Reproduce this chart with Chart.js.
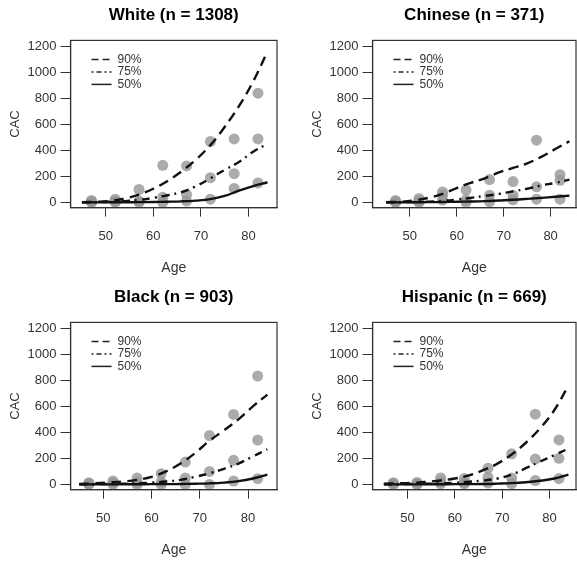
<!DOCTYPE html>
<html>
<head>
<meta charset="utf-8">
<script src="https://cdn.jsdelivr.net/npm/chart.js@4"></script>
<style>
  html, body { margin: 0; padding: 0; background: #fff; overflow: hidden; }
  body { width: 577px; height: 564px; position: relative; }
  .panel { position: absolute; }
</style>
</head>
<body>
<div class="panel" style="left:0px;top:0px"><canvas id="white" width="303" height="282"></canvas></div>
<div class="panel" style="left:302px;top:0px"><canvas id="chinese" width="303" height="282"></canvas></div>
<div class="panel" style="left:0px;top:282px"><canvas id="black" width="303" height="282"></canvas></div>
<div class="panel" style="left:302px;top:282px"><canvas id="hispanic" width="303" height="282"></canvas></div>
<script>
// ages where the fitted percentile curves are read
const curveAges = [45, 48, 51, 54, 57, 60, 63, 66, 69, 72, 75, 78, 81, 84];
// age bins of the observed percentiles (grey dots)
const binAges = [47, 52, 57, 62, 67, 72, 77, 82];

const xTicks = [50, 60, 70, 80];
const yTicks = [0, 200, 400, 600, 800, 1000, 1200];
const seriesLabels = ['90%', '75%', '50%'];

// White
const whiteP90 = [2, 5, 12, 30, 60, 105, 165, 240, 330, 440, 580, 740, 930, 1160];
const whiteP75 = [0, 2, 5, 10, 18, 35, 55, 80, 125, 185, 250, 310, 390, 450];
const whiteP50 = [0, 0, 1, 1, 2, 3, 5, 8, 14, 25, 50, 90, 125, 155];
const whiteObs90 = [15, 25, 99, 285, 280, 468, 488, 839];
const whiteObs75 = [5, 10, 10, 40, 60, 190, 221, 488];
const whiteObs50 = [0, 0, 0, 0, 10, 25, 107, 150];

// Chinese
const chineseP90 = [2, 5, 15, 35, 65, 110, 150, 185, 230, 265, 300, 350, 410, 470];
const chineseP75 = [0, 1, 3, 6, 12, 22, 35, 50, 65, 85, 105, 130, 150, 175];
const chineseP50 = [0, 0, 1, 2, 3, 5, 7, 10, 15, 20, 27, 35, 43, 52];
const chineseObs90 = [15, 30, 80, 95, 175, 160, 478, 213];
const chineseObs75 = [5, 10, 55, 20, 55, 55, 120, 170];
const chineseObs50 = [0, 0, 18, 0, 5, 20, 25, 25];

// Black
const blackP90 = [3, 8, 15, 22, 35, 58, 100, 160, 240, 335, 415, 500, 600, 690];
const blackP75 = [0, 1, 3, 5, 8, 14, 22, 35, 58, 85, 120, 160, 215, 270];
const blackP50 = [0, 0, 0, 1, 1, 2, 2, 3, 5, 8, 14, 25, 45, 75];
const blackObs90 = [13, 26, 50, 82, 172, 375, 538, 833];
const blackObs75 = [5, 10, 15, 20, 50, 100, 185, 341];
const blackObs50 = [0, 0, 0, 0, 0, 0, 26, 44];

// Hispanic
const hispanicP90 = [5, 8, 12, 20, 30, 45, 70, 110, 160, 230, 320, 430, 570, 760];
const hispanicP75 = [0, 1, 3, 5, 8, 12, 20, 30, 45, 75, 125, 175, 225, 275];
const hispanicP50 = [0, 0, 0, 1, 1, 2, 2, 3, 6, 10, 17, 28, 45, 75];
const hispanicObs90 = [13, 15, 50, 45, 125, 235, 540, 342];
const hispanicObs75 = [5, 5, 20, 15, 55, 50, 195, 200];
const hispanicObs50 = [0, 0, 5, 5, 10, 5, 30, 45];

Chart.defaults.font.family = '"Liberation Sans", Arial, sans-serif';
Chart.defaults.color = '#333';

const dashStyles = [[10, 6], [8, 5, 2, 5], []];
const legendDash = [[7, 4], [2, 3, 5, 3], []];

// box round the plot area
const frame = {
  id: 'frame',
  afterDraw(chart) {
    const { ctx, chartArea: a } = chart;
    ctx.save();
    ctx.strokeStyle = '#333';
    ctx.lineWidth = 1.2;
    ctx.strokeRect(a.left, a.top, a.right - a.left, a.bottom - a.top);
    ctx.restore();
  }
};

// legend drawn inside the plot, top left
const insideLegend = {
  id: 'insideLegend',
  afterDatasetsDraw(chart) {
    const { ctx, chartArea: a } = chart;
    const lines = chart.data.datasets.filter(d => d.type === 'line');
    ctx.save();
    ctx.font = '12px "Liberation Sans", Arial, sans-serif';
    ctx.textBaseline = 'middle';
    lines.forEach((ds, i) => {
      const y = a.top + 19 + i * 12.5;
      const x = a.left + 21;
      ctx.beginPath();
      ctx.setLineDash(legendDash[i]);
      ctx.lineWidth = 1.5;
      ctx.strokeStyle = '#222';
      ctx.moveTo(x, y);
      ctx.lineTo(x + 20, y);
      ctx.stroke();
      ctx.setLineDash([]);
      ctx.fillStyle = '#333';
      ctx.fillText(ds.label, x + 26, y);
    });
    ctx.restore();
  }
};

function makeChart(id, title, curves, obs, xMin, xMax, padRight) {
  const datasets = curves.map((vals, i) => ({
    type: 'line',
    label: seriesLabels[i],
    data: curveAges.map((a, j) => ({ x: a, y: vals[j] })),
    borderColor: '#111',
    borderWidth: 2.4,
    borderDash: dashStyles[i],
    pointRadius: 0,
    tension: 0.4,
    fill: false
  }));

  const dots = [];
  obs.forEach(vals => binAges.forEach((a, j) => dots.push({ x: a, y: vals[j] })));
  datasets.push({
    type: 'scatter',
    label: 'observed',
    data: dots,
    backgroundColor: 'rgba(150, 150, 150, 0.8)',
    borderWidth: 0,
    pointRadius: 5.5
  });

  return new Chart(document.getElementById(id), {
    type: 'scatter',
    data: { datasets: datasets },
    options: {
      responsive: false,
      animation: false,
      layout: { padding: { left: 0, right: padRight, top: 0, bottom: 0 } },
      plugins: {
        legend: { display: false },
        tooltip: { enabled: false },
        title: {
          display: true,
          text: title,
          fullSize: false,
          color: '#000',
          font: { size: 17, weight: 'bold' },
          padding: { top: 5, bottom: 15 }
        }
      },
      scales: {
        x: {
          type: 'linear',
          min: xMin,
          max: xMax,
          afterBuildTicks: s => { s.ticks = xTicks.map(v => ({ value: v })); },
          ticks: { font: { size: 13 }, color: '#333', padding: 12, callback: v => String(v) },
          grid: { drawOnChartArea: false, drawTicks: true, tickLength: 9, color: '#333' },
          border: { display: true, color: '#333', width: 1.2 },
          title: { display: true, text: 'Age', font: { size: 14 }, color: '#333', padding: { top: 4, bottom: 5 } }
        },
        y: {
          min: -40,
          max: 1245,
          afterBuildTicks: s => { s.ticks = yTicks.map(v => ({ value: v })); },
          ticks: { font: { size: 13 }, color: '#333', padding: 4, callback: v => String(v) },
          grid: { drawOnChartArea: false, drawTicks: true, tickLength: 10, color: '#333' },
          border: { display: true, color: '#333', width: 1.2 },
          title: { display: true, text: 'CAC', font: { size: 13 }, color: '#333', padding: { top: 8, bottom: 0 } }
        }
      }
    },
    plugins: [frame, insideLegend]
  });
}

makeChart('white', 'White (n = 1308)', [whiteP90, whiteP75, whiteP50],
  [whiteObs90, whiteObs75, whiteObs50], 42.6, 86, 26);
makeChart('chinese', 'Chinese (n = 371)', [chineseP90, chineseP75, chineseP50],
  [chineseObs90, chineseObs75, chineseObs50], 42.1, 85.4, 29);
makeChart('black', 'Black (n = 903)', [blackP90, blackP75, blackP50],
  [blackObs90, blackObs75, blackObs50], 43.2, 86, 26);
makeChart('hispanic', 'Hispanic (n = 669)', [hispanicP90, hispanicP75, hispanicP50],
  [hispanicObs90, hispanicObs75, hispanicObs50], 42.6, 85.6, 29);
</script>
</body>
</html>
